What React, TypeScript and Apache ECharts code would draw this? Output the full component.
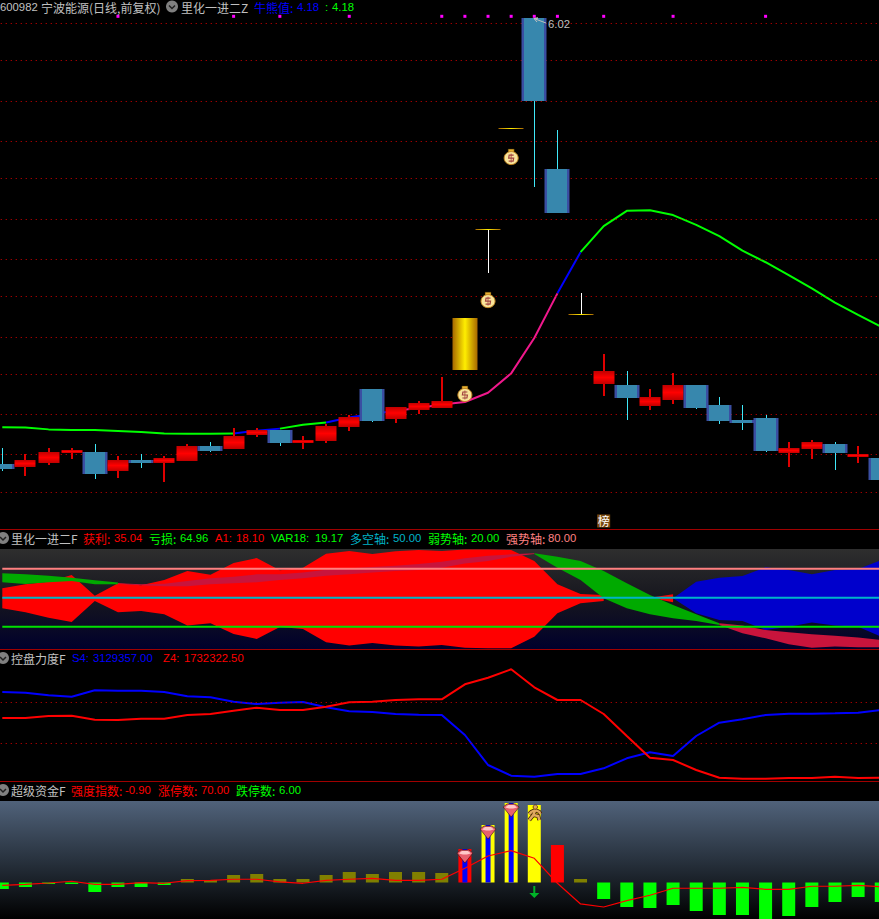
import React, { useEffect, useRef } from "react";
import * as echarts from "echarts";

const days = Array.from({ length: 39 }, (_, i) => String(i));

// Price panel
const candleKinds = ["d","u","u","u","d","u","d","u","u","d","u","u","d","u","u","u","d","u","u","u","g","g","g","d","d","g","u","d","u","u","d","d","d","d","u","u","d","u","d"];
const candleOpen = [4.243,4.231,4.247,4.287,4.291,4.215,4.259,4.247,4.255,4.315,4.303,4.359,4.379,4.327,4.335,4.39,4.542,4.422,4.458,4.466,4.618,5.181,5.582,6.02,5.418,4.841,4.562,4.558,4.474,4.498,4.558,4.478,4.418,4.426,4.287,4.303,4.323,4.271,4.267];
const candleClose = [4.223,4.259,4.291,4.299,4.203,4.259,4.247,4.267,4.315,4.295,4.355,4.379,4.327,4.339,4.394,4.43,4.414,4.47,4.486,4.494,4.825,5.181,5.582,5.689,5.243,4.841,4.614,4.506,4.51,4.558,4.466,4.414,4.406,4.295,4.307,4.331,4.287,4.283,4.179];
const candleLow = [4.215,4.195,4.239,4.263,4.183,4.187,4.227,4.171,4.255,4.291,4.303,4.351,4.315,4.303,4.327,4.375,4.41,4.406,4.442,4.466,4.618,5.004,5.582,5.347,5.243,4.841,4.514,4.418,4.458,4.482,4.462,4.402,4.379,4.291,4.231,4.263,4.219,4.247,4.179];
const candleHigh = [4.307,4.283,4.307,4.307,4.323,4.275,4.283,4.275,4.323,4.331,4.386,4.386,4.379,4.355,4.402,4.438,4.542,4.47,4.494,4.59,4.825,5.181,5.582,6.02,5.574,4.924,4.681,4.614,4.542,4.606,4.558,4.51,4.478,4.438,4.331,4.339,4.331,4.315,4.267];
const trendLine = [4.389,4.388,4.381,4.379,4.379,4.375,4.371,4.365,4.364,4.364,4.365,4.376,4.384,4.399,4.408,4.428,4.442,4.455,4.466,4.48,4.49,4.527,4.604,4.745,4.923,5.087,5.191,5.252,5.254,5.235,5.196,5.151,5.093,5.047,4.996,4.943,4.886,4.837,4.79];
const trendColors = ["g","g","g","g","g","g","g","g","g","g","b","b","g","g","b","b","b","p","p","p","p","p","p","p","b","g","g","g","g","g","g","g","g","g","g","g","g","g"];
const priceGrid = [6.0023,5.8469,5.6915,5.5321,5.3767,5.2213,5.0619,4.9065,4.7511,4.5957,4.4363,4.2809,4.1255];
const topMarks = [5,10,12,15,19,20,21,22,23,24,26,29,33];
const topMarkPrice = 6.027;
const bagDays = [[20,4.522],[21,4.896],[22,5.466]];
const listMark = [26,4.016];

// Oscillator panel
const redUpper = [59.7,63.8,66.6,73.5,52.1,64.9,62.8,68.3,77.6,73.8,85.9,91.1,78.3,81.1,95.6,98.3,95.2,98,99.3,98.3,100,100,99.3,88,63.8,53.8,52.8];
const redLower = [39,34.9,29.3,24.9,46.6,34.9,36.2,32.8,21.1,23.5,12.4,7.3,19.7,17.6,3.8,0.4,3.1,0.4,-0.6,1.1,-1.7,-2.4,-2.4,9.7,33.8,44.2,46.6];
const redTipUpper = [50,53.5];
const redTipLower = [50,45.2];
const blueUpper = [49.3,66.6,70.7,72.4,81.4,78.7,74.2,78.7,79.7,89];
const blueLower = [49.3,33.8,26.9,25.9,16.6,20,24.2,21.1,20,9.7];
const greenAUpper = [75.2,74.2,72.8,70.7,68,65.6];
const greenALower = [65.9,64.2,65.9,67.3,63.8,63.8];
const crimsonAUpper = [64.9,63.8,64.5,67.3,70,71.8,74.2,74.2,76.2,79,80.4,81.8,83.1,84.9,87.3,90.7,93.5,94.9,95.9];
const crimsonALower = [64.2,62.8,61.8,61.8,63.8,64.9,65.9,68.3,70,72.8,74.2,76.2,77.6,78.7,81.1,85.5,87.9,92.4,95.2];
const greenBUpper = [95.9,92.4,88,77.6,64.9,52.8,42.4,32.8,23.5];
const greenBLower = [95.2,81.1,68.3,49.3,39,32.8,28.6,25.9,21.8];
const crimsonBUpper = [23.5,21.1,16.6,14.2,12.1,10.7,8.7,6.2];
const crimsonBLower = [21.8,13.1,8,1.8,-1.7,-0.6,-1.3,-1.3];
const strongAxis = days.map(() => 80);
const midAxis = days.map(() => 50);
const weakAxis = days.map(() => 20);

// Control panel (units of 10,000)
const s4 = [350.09,348.64,343.27,340.39,353.59,352.77,352.77,350.09,341.21,339.15,330.07,325.32,328,329.45,318.51,310.26,308.81,304.69,303.24,302.62,261.35,199.44,177.36,175.3,180.87,180.87,192.63,213.27,225.65,218.07,259.29,286.73,293.75,302.62,305.3,305.3,306.13,307.37,312.94];
const z4 = [296.43,296.43,300.56,301.18,292.92,292.3,294.99,294.99,302.62,304.69,311.5,317.69,312.94,312.94,319.75,328.83,330.07,333.58,335.02,335.02,365.97,379.59,396.93,359.78,333.58,333.58,304.69,259.29,214.51,209.76,189.12,173.23,171.17,171.17,172.62,172.62,175.3,172.62,173.23];
const controlGrid = [328.42,243.81];

// Capital panel
const limitBars = [-6.5,-4.5,-1.5,-1.5,-9.5,-4.5,-4.5,-2.5,3.5,2.5,7.5,8.5,3.5,3.5,7.5,10.5,8.5,10.5,10.5,9.5,33.5,57.5,79.5,77.5,37.5,3.5,-16.5,-24.5,-25.5,-22.5,-28.5,-32.5,-32.5,-36.5,-33.5,-24.5,-19.5,-14.5,-19.5];
const barKinds = ["g","g","g","g","g","g","g","g","o","o","o","o","o","o","o","o","o","o","o","o","r","y","y","y","r","o","g","g","g","g","g","g","g","g","g","g","g","g","g"];
const innerBars = [null,null,null,null,null,null,null,null,null,null,null,null,null,null,null,null,null,null,null,null,33.5,57.5,79.5];
const strength = [-0.6,-0.39,-0.11,0.26,-0.39,-0.39,-0.04,-0.17,0.39,0.47,0.69,0.69,0.11,-0.17,0.47,0.69,0.9,0.47,0.47,0.69,3.04,5.67,6.81,5.18,-0.17,-4.6,-5.25,-3.9,-2.74,-1.24,-1.24,-1.24,-1.03,-1.46,-1.46,-0.81,-0.81,-0.6,-0.9];
const gemMarks = [[20,26.5],[21,50.5],[22,72.5]];
const runnerMark = [[23,69.5]];
const arrowMark = [[23,-9.5]];

const cjk = '"Noto Sans CJK SC", sans-serif';
const num = '"Liberation Sans", sans-serif';
const grey = "#c0c0c0";
const RED = "#ff0000";
const GREEN = "#00ff00";
const BLUE = "#0000ff";
const CYAN = "#00b4c8";
const PINK = "#ff8080";

const headerTexts: [number, number, string, string, boolean][] = [
  [0, 7, "600982", grey, true],
  [41, 7, "宁波能源(日线,前复权)", grey, false],
  [181, 7, "里化一进二Z", grey, false],
  [254, 7, "牛熊值:", BLUE, false],
  [297, 7, "4.18", BLUE, true],
  [325, 7, ":", GREEN, true],
  [332, 7, "4.18", GREEN, true],
  [11, 538, "里化一进二F", grey, false],
  [83, 538, "获利:", RED, false],
  [114, 538, "35.04", RED, true],
  [149, 538, "亏损:", GREEN, false],
  [180, 538, "64.96", GREEN, true],
  [215, 538, "A1:", RED, true],
  [236, 538, "18.10", RED, true],
  [271, 538, "VAR18:", GREEN, true],
  [315, 538, "19.17", GREEN, true],
  [350, 538, "多空轴:", CYAN, false],
  [393, 538, "50.00", CYAN, true],
  [428, 538, "弱势轴:", GREEN, false],
  [471, 538, "20.00", GREEN, true],
  [506, 538, "强势轴:", PINK, false],
  [548, 538, "80.00", PINK, true],
  [11, 658, "控盘力度F", grey, false],
  [72, 658, "S4:", BLUE, true],
  [93, 658, "3129357.00", BLUE, true],
  [163, 658, "Z4:", RED, true],
  [184, 658, "1732322.50", RED, true],
  [11, 790, "超级资金F", grey, false],
  [71, 790, "强度指数:", RED, false],
  [125, 790, "-0.90", RED, true],
  [158, 790, "涨停数:", RED, false],
  [201, 790, "70.00", RED, true],
  [236, 790, "跌停数:", GREEN, false],
  [279, 790, "6.00", GREEN, true],
  [548, 24, "6.02", grey, true],
];

const BAND = 23.13;
const LEFT = 2.3 - BAND / 2;
const WIDTH = BAND * 39;

function makeGrid(top: number, height: number, bg?: [string, string, string]) {
  const g: any = { left: LEFT, width: WIDTH, top, height, outerBoundsMode: "none", containLabel: false };
  if (bg) {
    g.show = true;
    g.borderWidth = 0;
    g.backgroundColor = {
      type: "linear", x: 0, y: 0, x2: 0, y2: 1,
      colorStops: [
        { offset: 0, color: bg[0] },
        { offset: 0.5, color: bg[1] },
        { offset: 1, color: bg[2] },
      ],
    };
  }
  return g;
}

function makeXAxis(gridIndex: number) {
  return { type: "category", data: days, gridIndex, show: false, boundaryGap: true };
}
function makeYAxis(gridIndex: number, min: number, max: number) {
  return { type: "value", gridIndex, min, max, show: false, splitLine: { show: false } };
}

function bandSeries(axis: number, start: number, upper: number[], lower: number[], color: string, z: number) {
  return {
    type: "custom",
    coordinateSystem: "cartesian2d",
    xAxisIndex: axis,
    yAxisIndex: axis,
    silent: true,
    z,
    data: [[start, 0]],
    renderItem: (_: any, api: any) => {
      const top = upper.map((v, i) => api.coord([start + i, v]));
      const bottom = lower.map((v, i) => api.coord([start + i, v])).reverse();
      return { type: "polygon", shape: { points: [...top, ...bottom] }, style: { fill: color } };
    },
  };
}

function lineSeries(axis: number, data: (number | null)[], color: string, width: number, z: number, yAxis = axis, extra: any = {}) {
  return {
    type: "line",
    xAxisIndex: axis,
    yAxisIndex: yAxis,
    data,
    symbol: "none",
    silent: true,
    z,
    lineStyle: { color, width },
    ...extra,
  };
}

function dottedLines(values: number[]) {
  return {
    silent: true,
    symbol: "none",
    label: { show: false },
    lineStyle: { color: "#d80000", width: 1, type: [1, 4], opacity: 1 },
    data: values.map((yAxis) => ({ yAxis })),
  };
}

function trendPart(code: string) {
  return trendLine.map((v, i) =>
    trendColors[i] === code || trendColors[i - 1] === code ? v : null
  );
}

const redFill = new echarts.graphic.LinearGradient(0, 0, 0, 1, [
  { offset: 0, color: "#c00000" },
  { offset: 0.5, color: "#ff0000" },
  { offset: 1, color: "#c00000" },
]);
const blueFill = new echarts.graphic.LinearGradient(0, 0, 1, 0, [
  { offset: 0, color: "#3a4ea2" },
  { offset: 0.11, color: "#3a4ea2" },
  { offset: 0.12, color: "#3787ad" },
  { offset: 0.88, color: "#3787ad" },
  { offset: 0.89, color: "#3a4ea2" },
  { offset: 1, color: "#3a4ea2" },
]);
const goldFill = new echarts.graphic.LinearGradient(0, 0, 1, 0, [
  { offset: 0, color: "#a86800" },
  { offset: 0.5, color: "#ffee00" },
  { offset: 1, color: "#a86800" },
]);

function renderCandle(params: any, api: any) {
  const i = params.dataIndex;
  const kind = candleKinds[i];
  const x = Math.round(api.coord([i, 0])[0]);
  const yO = Math.round(api.coord([i, candleOpen[i]])[1]);
  const yC = Math.round(api.coord([i, candleClose[i]])[1]);
  const yL = Math.round(api.coord([i, candleLow[i]])[1]);
  const yH = Math.round(api.coord([i, candleHigh[i]])[1]);
  const top = Math.min(yO, yC);
  const h = Math.abs(yO - yC);
  const children: any[] = [];
  if (kind === "u") {
    children.push({ type: "rect", shape: { x: x - 1, y: yH, width: 2, height: yL - yH }, style: { fill: "#e00000" } });
    children.push({ type: "rect", shape: { x: x - 10.5, y: top, width: 21, height: h }, style: { fill: redFill } });
  } else if (kind === "d") {
    children.push({ type: "rect", shape: { x: x, y: yH, width: 1, height: yL - yH }, style: { fill: "#40e8f8" } });
    children.push({ type: "rect", shape: { x: x - 12.5, y: top, width: 25, height: h }, style: { fill: blueFill } });
  } else {
    if (yL !== yH) children.push({ type: "rect", shape: { x: x, y: yH, width: 1, height: yL - yH }, style: { fill: "#ffffff" } });
    children.push({ type: "rect", shape: { x: x - 12.5, y: top, width: 25, height: Math.max(h, 1) }, style: { fill: goldFill } });
  }
  return { type: "group", children };
}

function renderBag(_: any, api: any) {
  const c = api.coord([api.value(0), api.value(1)]);
  const x = c[0];
  const y = c[1];
  return {
    type: "group",
    children: [
      { type: "rect", shape: { x: x - 3, y: y - 8, width: 6, height: 3 }, style: { fill: "#e8b030", stroke: "#3a2a00", lineWidth: 0.5 } },
      { type: "ellipse", shape: { cx: x, cy: y + 1, rx: 7, ry: 6.5 }, style: { fill: "#f8e49a", stroke: "#c88820", lineWidth: 1 } },
      { type: "polyline", shape: { points: [[x + 2.5, y - 2], [x - 2, y - 2], [x - 2.5, y + 1], [x + 2.5, y + 1], [x + 2, y + 4], [x - 2.5, y + 4]] }, style: { fill: "none", stroke: "#a04040", lineWidth: 1.2 } },
      { type: "line", shape: { x1: x, y1: y - 3.5, x2: x, y2: y + 5.5 }, style: { stroke: "#a04040", lineWidth: 0.8 } },
    ],
  };
}

function renderGem(_: any, api: any) {
  const c = api.coord([api.value(0), api.value(1)]);
  const x = c[0];
  const y = c[1];
  return {
    type: "group",
    children: [
      { type: "polygon", shape: { points: [[x - 8, y - 3], [x - 4, y - 6], [x + 4, y - 6], [x + 8, y - 3], [x, y + 7]] }, style: { fill: "#e8606e", stroke: "#301010", lineWidth: 0.6 } },
      { type: "polygon", shape: { points: [[x - 6, y - 2.5], [x - 3, y - 5], [x + 3, y - 5], [x + 6, y - 2.5], [x + 2, y - 1.5], [x - 2, y - 1.5]] }, style: { fill: "#ffc8c8" } },
    ],
  };
}

function renderRunner(_: any, api: any) {
  const c = api.coord([api.value(0), api.value(1)]);
  const x = c[0];
  const y = c[1];
  const limb = { fill: "none", stroke: "#e0a860", lineWidth: 2.5 };
  const edge = { fill: "none", stroke: "#402000", lineWidth: 4 };
  const points = [
    [[x + 1, y - 3], [x - 1, y + 2], [x - 5, y + 7]],
    [[x - 1, y + 2], [x + 4, y + 3], [x + 5, y + 7]],
    [[x + 1, y - 3], [x + 5, y - 1], [x + 6, y + 1]],
    [[x + 1, y - 3], [x - 3, y - 1], [x - 5, y + 1]],
  ];
  return {
    type: "group",
    children: [
      ...points.map((p) => ({ type: "polyline", shape: { points: p }, style: edge })),
      ...points.map((p) => ({ type: "polyline", shape: { points: p }, style: limb })),
      { type: "circle", shape: { cx: x + 1, cy: y - 6, r: 2.2 }, style: { fill: "#e0a860", stroke: "#402000", lineWidth: 0.7 } },
    ],
  };
}

function renderArrow(_: any, api: any) {
  const c = api.coord([api.value(0), api.value(1)]);
  const x = c[0];
  const y = c[1];
  return {
    type: "polygon",
    shape: { points: [[x - 1, y - 6], [x + 1, y - 6], [x + 1, y + 1], [x + 5, y + 1], [x, y + 6], [x - 5, y + 1], [x - 1, y + 1]] },
    style: { fill: "#00b428" },
  };
}

function circleIcon(cx: number, cy: number) {
  return {
    type: "group",
    children: [
      { type: "circle", shape: { cx, cy, r: 6 }, style: { fill: "#808080" } },
      { type: "polyline", shape: { points: [[cx - 3, cy - 1], [cx, cy + 2], [cx + 3, cy - 1]] }, style: { fill: "none", stroke: "#202020", lineWidth: 1.5 } },
    ],
  };
}

function separator(y: number) {
  return { type: "line", shape: { x1: 0, y1: y, x2: 879, y2: y }, style: { stroke: "#a00000", lineWidth: 1 }, z: 20 };
}

function buildOption() {
  return {
    animation: false,
    backgroundColor: "#000000",
    grid: [
      makeGrid(0, 528),
      makeGrid(549, 100, ["#2e2e2e", "#16161e", "#00002c"]),
      makeGrid(650, 131),
      makeGrid(801, 118, ["#50627a", "#28323e", "#000000"]),
      makeGrid(801, 118),
    ],
    xAxis: [makeXAxis(0), makeXAxis(1), makeXAxis(2), makeXAxis(3), makeXAxis(4)],
    yAxis: [
      makeYAxis(0, 3.988, 6.092),
      makeYAxis(1, -3.1, 100.4),
      makeYAxis(2, 166.42, 436.76),
      makeYAxis(3, -36.5, 81.5),
      makeYAxis(4, -36.5, 81.5),
      makeYAxis(3, -7.82, 17.45),
    ],
    series: [
      lineSeries(0, trendPart("g"), "#00ff00", 2, 3, 0, { markLine: dottedLines(priceGrid) }),
      lineSeries(0, trendPart("b"), "#0000ff", 2, 3),
      lineSeries(0, trendPart("p"), "#f0188c", 2, 3),
      {
        type: "custom",
        coordinateSystem: "cartesian2d",
        xAxisIndex: 0,
        yAxisIndex: 0,
        silent: true,
        z: 5,
        data: days.map((_, i) => [i, candleOpen[i], candleClose[i], candleLow[i], candleHigh[i]]),
        renderItem: renderCandle,
      },
      {
        type: "scatter",
        xAxisIndex: 0,
        yAxisIndex: 0,
        silent: true,
        z: 6,
        symbol: "rect",
        symbolSize: 3,
        itemStyle: { color: "#ff00ff", opacity: 1 },
        data: topMarks.map((i) => [i, topMarkPrice]),
      },
      {
        type: "custom",
        coordinateSystem: "cartesian2d",
        xAxisIndex: 0,
        yAxisIndex: 0,
        silent: true,
        z: 7,
        data: bagDays,
        renderItem: renderBag,
      },
      {
        type: "scatter",
        xAxisIndex: 0,
        yAxisIndex: 0,
        silent: true,
        z: 7,
        symbol: "rect",
        symbolSize: 13,
        itemStyle: { color: "#7a4a10", opacity: 1 },
        label: { show: true, position: "inside", formatter: "榜", color: "#ffffff", fontFamily: cjk, fontSize: 12 },
        data: [listMark],
      },

      bandSeries(1, 0, redUpper, redLower, "#ff0000", 2),
      bandSeries(1, 28, redTipUpper, redTipLower, "#ff0000", 2),
      bandSeries(1, 29, blueUpper, blueLower, "#0000cc", 2),
      bandSeries(1, 0, greenAUpper, greenALower, "#00aa00", 3),
      bandSeries(1, 5, crimsonAUpper, crimsonALower, "#c8143c", 3),
      bandSeries(1, 23, greenBUpper, greenBLower, "#00aa00", 3),
      bandSeries(1, 31, crimsonBUpper, crimsonBLower, "#c8143c", 3),
      lineSeries(1, strongAxis, PINK, 2, 4),
      lineSeries(1, midAxis, CYAN, 2, 4),
      lineSeries(1, weakAxis, "#00e000", 2, 4),

      lineSeries(2, s4, "#0000ff", 2, 3, 2, { markLine: dottedLines(controlGrid) }),
      lineSeries(2, z4, "#ff0000", 2, 3),

      {
        type: "bar",
        xAxisIndex: 3,
        yAxisIndex: 3,
        silent: true,
        barWidth: 13,
        z: 2,
        data: limitBars.map((value, i) => ({
          value,
          itemStyle: { color: { g: "#00ff00", o: "#808000", r: "#ff0000", y: "#ffff00" }[barKinds[i]] },
        })),
      },
      {
        type: "bar",
        xAxisIndex: 4,
        yAxisIndex: 4,
        silent: true,
        barWidth: 5,
        z: 3,
        itemStyle: { color: "#0000ff" },
        data: innerBars,
      },
      lineSeries(3, strength, "#ff0000", 1.2, 4, 5),
      { type: "custom", coordinateSystem: "cartesian2d", xAxisIndex: 3, yAxisIndex: 3, silent: true, z: 5, data: gemMarks, renderItem: renderGem },
      { type: "custom", coordinateSystem: "cartesian2d", xAxisIndex: 3, yAxisIndex: 3, silent: true, z: 5, data: runnerMark, renderItem: renderRunner },
      { type: "custom", coordinateSystem: "cartesian2d", xAxisIndex: 3, yAxisIndex: 3, silent: true, z: 5, data: arrowMark, renderItem: renderArrow },
    ],
    graphic: [
      separator(529.5),
      separator(649.5),
      separator(781.5),
      { ...circleIcon(172, 6.5), z: 20 },
      { ...circleIcon(3, 538), z: 20 },
      { ...circleIcon(3, 658), z: 20 },
      { ...circleIcon(3, 790), z: 20 },
      { type: "polyline", z: 20, shape: { points: [[546, 23], [534, 18.5], [538, 18], [534, 18.5], [537, 22]] }, style: { fill: "none", stroke: "#c0c0c0", lineWidth: 1 } },
      ...headerTexts.map(([x, y, text, color, isNum]) => ({
        type: "text",
        x,
        y,
        z: 21,
        style: {
          text,
          fill: color,
          font: isNum ? `11.3px ${num}` : `12px ${cjk}`,
          textAlign: "left",
          textVerticalAlign: "middle",
        },
      })),
    ],
  };
}

export default function App() {
  const ref = useRef<HTMLDivElement>(null);
  useEffect(() => {
    document.body.style.margin = "0";
    document.body.style.background = "#000";
    const chart = echarts.init(ref.current!, undefined, { renderer: "svg" });
    chart.setOption(buildOption() as any);
    return () => chart.dispose();
  }, []);
  return <div ref={ref} style={{ position: "absolute", left: 0, top: 0, width: 879, height: 919, overflow: "hidden" }} />;
}
